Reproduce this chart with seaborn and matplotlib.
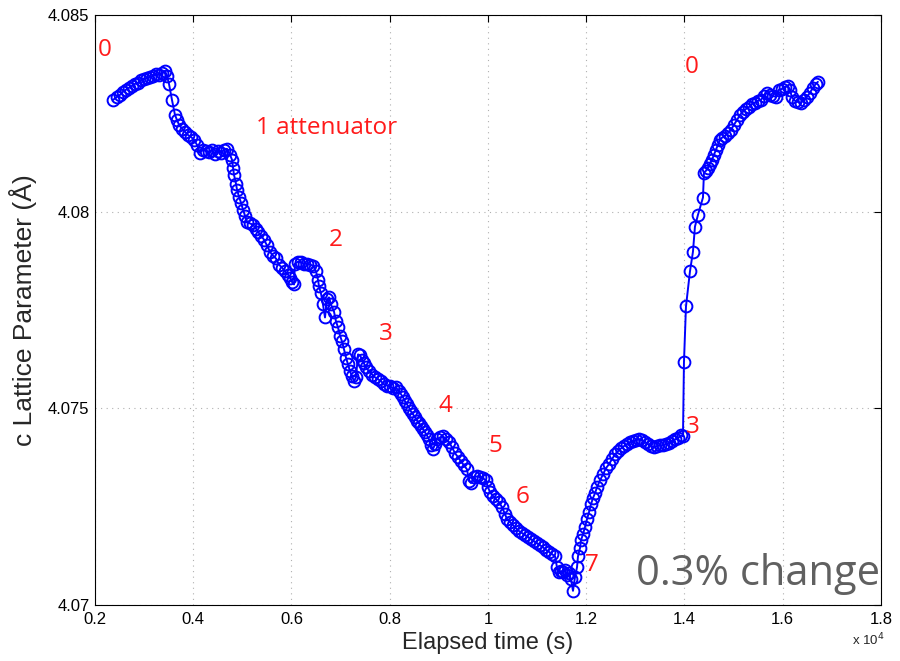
import matplotlib
matplotlib.use("Agg")
import matplotlib.pyplot as plt
import seaborn as sns
import pandas as pd

# Elapsed time (s)
time_s = [
    2366, 2448, 2509, 2570, 2631, 2692, 2753, 2814, 2875, 2936, 2997, 3059, 3120, 3181, 3242, 3303,
    3364, 3425, 3466, 3506, 3567, 3628, 3669, 3710, 3771, 3832, 3893, 3954, 4015, 4076, 4137, 4198,
    4260, 4321, 4382, 4443, 4504, 4565, 4626, 4687, 4748, 4789, 4809, 4829, 4870, 4891, 4931, 4972,
    5013, 5053, 5094, 5155, 5216, 5277, 5318, 5379, 5440, 5501, 5562, 5623, 5684, 5746, 5807, 5868,
    5929, 5969, 6010, 6051, 6071, 6132, 6193, 6254, 6315, 6376, 6438, 6499, 6539, 6560, 6600, 6641,
    6682, 6722, 6763, 6804, 6865, 6906, 6946, 6987, 7028, 7069, 7109, 7150, 7191, 7232, 7272, 7313,
    7354, 7394, 7435, 7476, 7516, 7578, 7639, 7700, 7761, 7822, 7883, 7944, 8005, 8066, 8127, 8188,
    8229, 8270, 8310, 8351, 8392, 8432, 8473, 8514, 8555, 8595, 8636, 8677, 8717, 8758, 8799, 8839,
    8880, 8921, 8961, 9023, 9084, 9145, 9206, 9267, 9328, 9389, 9450, 9511, 9572, 9613, 9654, 9715,
    9776, 9837, 9898, 9959, 10000, 10041, 10102, 10163, 10224, 10285, 10346, 10387, 10448, 10509,
    10570, 10631, 10692, 10753, 10814, 10875, 10936, 10997, 11058, 11119, 11181, 11242, 11303, 11364,
    11404, 11445, 11486, 11527, 11567, 11608, 11649, 11689, 11730, 11771, 11812, 11832, 11873, 11893,
    11934, 11974, 12015, 12056, 12096, 12137, 12178, 12218, 12280, 12341, 12402, 12463, 12524, 12585,
    12646, 12707, 12768, 12829, 12890, 12951, 13012, 13073, 13134, 13195, 13256, 13317, 13378, 13440,
    13501, 13562, 13623, 13684, 13745, 13806, 13867, 13928, 13969, 13989, 14030, 14111, 14172, 14213,
    14274, 14376, 14396, 14437, 14478, 14518, 14559, 14600, 14640, 14681, 14722, 14763, 14824, 14885,
    14946, 15007, 15068, 15129, 15190, 15251, 15312, 15373, 15434, 15495, 15556, 15617, 15678, 15739,
    15800, 15861, 15922, 15983, 16044, 16105, 16145, 16186, 16247, 16308, 16369, 16430, 16491, 16552,
    16613, 16674, 16715,
]

# c lattice parameter (Angstrom)
c_param = [
    4.08284, 4.08292, 4.08297, 4.08305, 4.08310, 4.08315, 4.08320, 4.08325, 4.08327, 4.08335, 4.08338,
    4.08340, 4.08343, 4.08345, 4.08350, 4.08348, 4.08353, 4.08358, 4.08345, 4.08325, 4.08284, 4.08246,
    4.08233, 4.08221, 4.08211, 4.08203, 4.08195, 4.08190, 4.08183, 4.08170, 4.08150, 4.08157, 4.08155,
    4.08152, 4.08157, 4.08147, 4.08155, 4.08150, 4.08157, 4.08160, 4.08145, 4.08132, 4.08112, 4.08094,
    4.08071, 4.08056, 4.08038, 4.08023, 4.08005, 4.07990, 4.07975, 4.07970, 4.07967, 4.07957, 4.07949,
    4.07939, 4.07929, 4.07914, 4.07898, 4.07888, 4.07881, 4.07865, 4.07858, 4.07848, 4.07840, 4.07832,
    4.07822, 4.07815, 4.07868, 4.07873, 4.07871, 4.07868, 4.07868, 4.07865, 4.07863, 4.07848, 4.07827,
    4.07810, 4.07792, 4.07764, 4.07731, 4.07777, 4.07782, 4.07764, 4.07746, 4.07721, 4.07706, 4.07685,
    4.07670, 4.07650, 4.07629, 4.07612, 4.07594, 4.07581, 4.07569, 4.07579, 4.07637, 4.07635, 4.07624,
    4.07614, 4.07604, 4.07594, 4.07586, 4.07579, 4.07574, 4.07569, 4.07561, 4.07558, 4.07556, 4.07551,
    4.07553, 4.07543, 4.07536, 4.07528, 4.07518, 4.07510, 4.07502, 4.07492, 4.07485, 4.07477, 4.07469,
    4.07462, 4.07454, 4.07447, 4.07439, 4.07431, 4.07421, 4.07406, 4.07396, 4.07409, 4.07421, 4.07426,
    4.07429, 4.07421, 4.07414, 4.07401, 4.07386, 4.07376, 4.07365, 4.07355, 4.07345, 4.07315, 4.07310,
    4.07325, 4.07327, 4.07325, 4.07322, 4.07317, 4.07299, 4.07287, 4.07277, 4.07269, 4.07261, 4.07249,
    4.07231, 4.07218, 4.07211, 4.07203, 4.07195, 4.07188, 4.07183, 4.07178, 4.07173, 4.07167, 4.07162,
    4.07157, 4.07152, 4.07147, 4.07140, 4.07135, 4.07129, 4.07124, 4.07096, 4.07084, 4.07086, 4.07084,
    4.07089, 4.07076, 4.07081, 4.07066, 4.07036, 4.07071, 4.07096, 4.07124, 4.07145, 4.07165, 4.07180,
    4.07198, 4.07218, 4.07236, 4.07256, 4.07272, 4.07284, 4.07299, 4.07317, 4.07332, 4.07348, 4.07358,
    4.07371, 4.07383, 4.07391, 4.07398, 4.07404, 4.07409, 4.07414, 4.07416, 4.07419, 4.07421, 4.07419,
    4.07414, 4.07409, 4.07404, 4.07401, 4.07404, 4.07406, 4.07406, 4.07409, 4.07411, 4.07416, 4.07421,
    4.07424, 4.07431, 4.07429, 4.07617, 4.07759, 4.07848, 4.07898, 4.07962, 4.07992, 4.08036, 4.08099,
    4.08104, 4.08112, 4.08122, 4.08132, 4.08145, 4.08157, 4.08170, 4.08183, 4.08188, 4.08193, 4.08200,
    4.08208, 4.08221, 4.08233, 4.08246, 4.08254, 4.08261, 4.08266, 4.08274, 4.08277, 4.08282, 4.08284,
    4.08294, 4.08302, 4.08297, 4.08294, 4.08292, 4.08310, 4.08312, 4.08317, 4.08320, 4.08310, 4.08292,
    4.08282, 4.08279, 4.08277, 4.08284, 4.08292, 4.08302, 4.08315, 4.08325, 4.08330,
]

x_ticks = [2000, 4000, 6000, 8000, 10000, 12000, 14000, 16000, 18000]
x_tick_labels = ["0.2", "0.4", "0.6", "0.8", "1", "1.2", "1.4", "1.6", "1.8"]
y_ticks = [4.07, 4.075, 4.08, 4.085]
y_tick_labels = ["4.07", "4.075", "4.08", "4.085"]

# annotation labels (text, time, value)
ann_text = ["0", "1 attenuator", "2", "3", "4", "5", "6", "7", "3", "0"]
ann_x = [2204, 6723, 6906, 7924, 9125, 10142, 10712, 12117, 14173, 14153]
ann_y = [4.08411, 4.08213, 4.07929, 4.07688, 4.07505, 4.07404, 4.07274, 4.07102, 4.07452, 4.08368]

df = pd.DataFrame({"time": time_s, "c": c_param})

sns.set_style("white")
plt.rcParams["font.family"] = ["Liberation Sans", "DejaVu Sans"]

fig = plt.figure(figsize=(9, 6.61), dpi=100)
ax = fig.add_axes([95 / 900, 1 - 605 / 661, (881 - 95) / 900, (605 - 15) / 661])

sns.lineplot(data=df, x="time", y="c", ax=ax, color="#0000ff", linewidth=1.4,
             marker="o", markersize=8.5, markerfacecolor="none",
             markeredgecolor="#0000ff", markeredgewidth=1.4, sort=False)

ax.set_xlim(2000, 18000)
ax.set_ylim(4.07, 4.085)
ax.set_xticks(x_ticks)
ax.set_xticklabels(x_tick_labels)
ax.set_yticks(y_ticks)
ax.set_yticklabels(y_tick_labels)
ax.tick_params(direction="in", length=5, width=0.8, top=True, right=True,
               labelsize=12, colors="black")
ax.tick_params(axis="x", pad=5)
ax.tick_params(axis="y", pad=4)
ax.grid(True, linestyle=(0, (1, 4)), color="#b0b0b0", linewidth=0.8)
for s in ax.spines.values():
    s.set_color("black")
    s.set_linewidth(0.8)

ax.set_xlabel("Elapsed time (s)", fontsize=17, labelpad=4)
ax.set_ylabel("c Lattice Parameter (Å)", fontsize=19, labelpad=8)

for t, x, y in zip(ann_text, ann_x, ann_y):
    ax.text(x, y, t, color="#ff1a1a", fontsize=17.5, ha="center", va="center",
            family=["Open Sans", "DejaVu Sans"])

ax.text(17980, 4.07079, "0.3% change", color="#606060", fontsize=30, ha="right",
        va="center", family=["Open Sans", "DejaVu Sans"])

fig.text(868 / 900, 1 - 640 / 661, r"x 10$^{4}$", fontsize=9.5, ha="center", va="center")

fig.savefig("out.png", dpi=100, facecolor="white")
